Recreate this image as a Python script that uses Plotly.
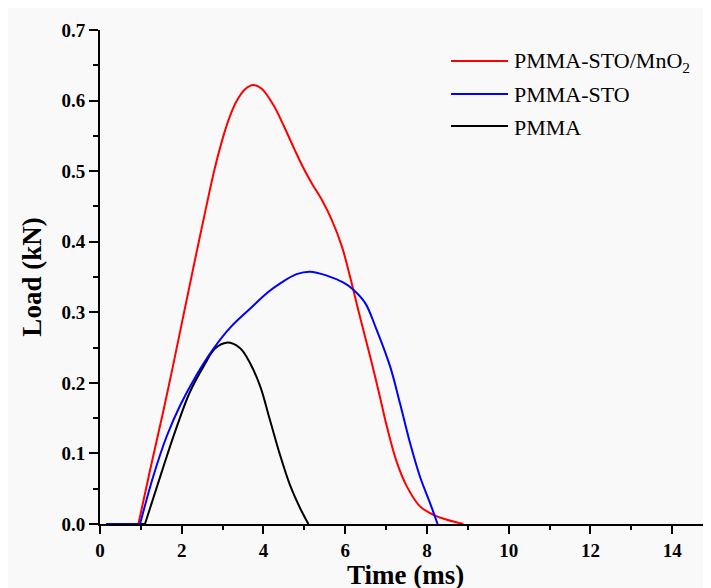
import plotly.graph_objects as go

# ---- data ----
series_names = ["PMMA-STO/MnO<sub>2</sub>", "PMMA-STO", "PMMA"]
series_colors = ["#ff0000", "#0000ff", "#000000"]

t_red = [0.15, 0.94, 1.22, 1.55, 1.80, 2.04, 2.28, 2.55, 2.80, 3.02, 3.18, 3.35, 3.55, 3.75,
         3.95, 4.24, 4.49, 4.75, 4.98, 5.18, 5.43, 5.67, 5.92, 6.12, 6.32, 6.50, 6.65, 6.85,
         7.02, 7.26, 7.51, 7.83, 8.16, 8.49, 8.89]
load_red = [0.0, 0.0, 0.075, 0.160, 0.228, 0.295, 0.362, 0.436, 0.502, 0.550, 0.578, 0.600,
            0.616, 0.622, 0.617, 0.594, 0.565, 0.532, 0.504, 0.483, 0.459, 0.431, 0.393,
            0.350, 0.303, 0.262, 0.228, 0.180, 0.138, 0.088, 0.053, 0.025, 0.013, 0.006, 0.0]

t_blue = [0.15, 0.98, 1.30, 1.63, 1.96, 2.37, 2.77, 3.18, 3.67, 4.10, 4.41, 4.81, 5.14, 5.55,
          5.96, 6.20, 6.49, 6.75, 7.10, 7.34, 7.59, 7.83, 8.08, 8.26]
load_blue = [0.0, 0.0, 0.067, 0.124, 0.168, 0.212, 0.248, 0.278, 0.305, 0.328, 0.341, 0.354,
             0.3575, 0.352, 0.342, 0.332, 0.313, 0.278, 0.223, 0.171, 0.114, 0.067, 0.029, 0.0]

t_black = [0.15, 1.10, 1.55, 1.88, 2.20, 2.53, 2.82, 3.10, 3.43, 3.67, 3.92, 4.16, 4.41,
           4.65, 4.90, 5.10]
load_black = [0.0, 0.0, 0.081, 0.138, 0.187, 0.223, 0.249, 0.257, 0.249, 0.228, 0.195,
              0.147, 0.097, 0.055, 0.022, 0.0]

x_tickvals = [0, 2, 4, 6, 8, 10, 12, 14]
y_tickvals = [0.0, 0.1, 0.2, 0.3, 0.4, 0.5, 0.6, 0.7]
x_title = "Time (ms)"
y_title = "Load (kN)"

# the page puts the figure 8 px in from the top-left corner
OFF = 8
W, H = 711 - OFF, 588 - OFF
ML, MR, MT, MB = 100 - OFF, 0, 30 - OFF, 64
PW, PH = W - ML - MR, H - MT - MB


def px_x(p):  # page pixel -> paper x
    return (p - OFF - ML) / PW


def px_y(p):  # page pixel -> paper y
    return (H - MB - (p - OFF)) / PH


fig = go.Figure()
draw_order = [2, 0, 1]
data_t = [t_red, t_blue, t_black]
data_l = [load_red, load_blue, load_black]
for i in draw_order:
    # flat lead-in (straight) then the smooth load pulse
    fig.add_trace(go.Scatter(
        x=data_t[i][:2], y=data_l[i][:2], mode="lines",
        line=dict(color=series_colors[i], width=2),
        showlegend=False, hoverinfo="skip"))
    fig.add_trace(go.Scatter(
        x=data_t[i][1:], y=data_l[i][1:], mode="lines", name=series_names[i],
        line=dict(color=series_colors[i], width=2, shape="spline", smoothing=1.0),
        showlegend=False, hoverinfo="skip"))

serif = "Liberation Serif, Times New Roman, serif"

# manual legend
shapes, annotations = [], []
legend_rows = [61, 94, 126]
for i, yy in enumerate(legend_rows):
    shapes.append(dict(type="line", xref="paper", yref="paper",
                       x0=px_x(451), x1=px_x(508), y0=px_y(yy), y1=px_y(yy),
                       line=dict(color=series_colors[i], width=2)))
    annotations.append(dict(xref="paper", yref="paper", x=px_x(512), y=px_y(yy + 1),
                            xanchor="left", yanchor="middle", showarrow=False,
                            text=series_names[i],
                            font=dict(family=serif, size=22, color="#000000")))

# x-axis title placed as in the reference
annotations.append(dict(xref="paper", yref="paper", x=0.5, y=px_y(575),
                        xanchor="center", yanchor="middle", showarrow=False,
                        text=f"<b>{x_title}</b>",
                        font=dict(family=serif, size=27, color="#000000")))

fig.update_layout(
    width=W, height=H,
    margin=dict(l=ML, r=MR, t=MT, b=MB, autoexpand=False),
    paper_bgcolor="#f9f9f9", plot_bgcolor="rgba(0,0,0,0)",
    shapes=shapes, annotations=annotations,
    font=dict(family=serif, color="#000000"),
    xaxis=dict(range=[0, 14.95], tickvals=x_tickvals,
               ticktext=[f"<b>{v}</b>" for v in x_tickvals],
               ticks="outside", ticklen=8, tickwidth=2, tickcolor="#000",
               minor=dict(dtick=1, ticks="outside", ticklen=4, tickwidth=2, tickcolor="#000"),
               showline=True, linecolor="#000", linewidth=2, showgrid=False, zeroline=False,
               tickfont=dict(family=serif, size=19)),
    yaxis=dict(range=[0, 0.7], tickvals=y_tickvals,
               ticktext=[f"<b>{v:.1f}</b>" for v in y_tickvals],
               ticks="outside", ticklen=9, tickwidth=2, tickcolor="#000",
               minor=dict(dtick=0.05, ticks="outside", ticklen=5, tickwidth=2, tickcolor="#000"),
               showline=True, linecolor="#000", linewidth=2, showgrid=False, zeroline=False,
               tickfont=dict(family=serif, size=19),
               title=dict(text=f"<b>{y_title}</b>", font=dict(family=serif, size=27), standoff=12)),
)

fig.write_html("out.html")
